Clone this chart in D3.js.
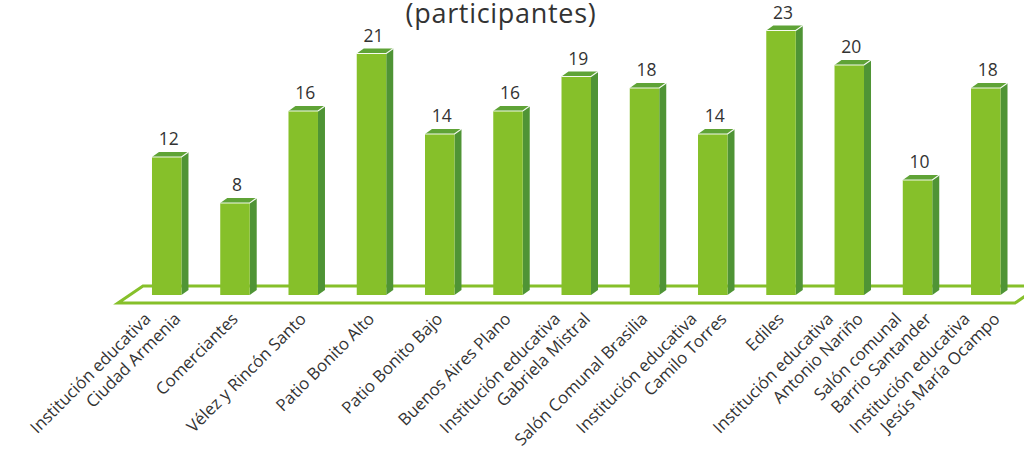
<!DOCTYPE html>
<html>
<head>
<meta charset="utf-8">
<script src="https://cdn.jsdelivr.net/npm/d3@7"></script>
<style>
  html, body { margin: 0; padding: 0; background: #ffffff; }
  svg { display: block; }
</style>
</head>
<body>
<svg id="chart" width="1024" height="451"></svg>
<script>
const categories = [
  "Institución educativa\nCiudad Armenia",
  "Comerciantes",
  "Vélez y Rincón Santo",
  "Patio Bonito Alto",
  "Patio Bonito Bajo",
  "Buenos Aires Plano",
  "Institución educativa\nGabriela Mistral",
  "Salón Comunal Brasilia",
  "Institución educativa\nCamilo Torres",
  "Ediles",
  "Institución educativa\nAntonio Nariño",
  "Salón comunal\nBarrio Santander",
  "Institución educativa\nJesús María Ocampo"
];
const participantes = [12, 8, 16, 21, 14, 16, 19, 18, 14, 23, 20, 10, 18];
const titleText = "(participantes)";

const svg = d3.select("#chart");
const baseY = 295;
const font = "'Open Sans', 'DejaVu Sans', sans-serif";

const x = d3.scaleBand()
  .domain(categories)
  .range([132.6, 1019.9])
  .paddingInner(0.568)
  .paddingOuter(0.284);

const y = d3.scaleLinear()
  .domain([0, 24])
  .range([baseY, baseY - 24 * 11.5]);

const bw = x.bandwidth();
const dx = 7, dy = 5;

const cFront = "#86c02a";
const cSide = "#4f9435";
const cTop = "#5fa336";

// Floor parallelogram
const floorBackY = baseY - 9, floorFrontY = baseY + 8;
svg.append("path")
  .attr("d", `M143,${floorBackY} L1040,${floorBackY} L1015,${floorFrontY} L118,${floorFrontY} Z`)
  .attr("fill", "#ffffff")
  .attr("stroke", cFront)
  .attr("stroke-width", 3)
  .attr("stroke-linejoin", "miter");

// Bars
const bars = svg.append("g").selectAll("g.bar")
  .data(categories.map((c, i) => ({ c, v: participantes[i] })))
  .join("g").attr("class", "bar");

bars.append("path") // side
  .attr("d", d => {
    const x0 = x(d.c) + bw, yv = y(d.v);
    return `M${x0},${yv} L${x0 + dx},${yv - dy} L${x0 + dx},${baseY - dy} L${x0},${baseY} Z`;
  })
  .attr("fill", cSide);

bars.append("path") // top
  .attr("d", d => {
    const x0 = x(d.c), yv = y(d.v);
    return `M${x0},${yv} L${x0 + dx},${yv - dy} L${x0 + bw + dx},${yv - dy} L${x0 + bw},${yv} Z`;
  })
  .attr("fill", cTop);

bars.append("rect") // front
  .attr("x", d => x(d.c))
  .attr("y", d => y(d.v))
  .attr("width", bw)
  .attr("height", d => baseY - y(d.v))
  .attr("fill", cFront);

bars.append("path") // highlight
  .attr("d", d => {
    const x0 = x(d.c), yv = y(d.v);
    return `M${x0},${yv} L${x0 + bw},${yv} L${x0 + bw + dx},${yv - dy}`;
  })
  .attr("fill", "none")
  .attr("stroke", "#ffffff")
  .attr("stroke-width", 1.2)
  .attr("opacity", 0.9);

// Value labels
bars.append("text")
  .attr("x", d => x(d.c) + bw / 2 + 2)
  .attr("y", d => y(d.v) - 12)
  .attr("text-anchor", "middle")
  .attr("font-family", font)
  .attr("font-size", 17.5)
  .attr("fill", "#333333")
  .text(d => d.v);

// Category labels (rotated)
const lab = svg.append("g");
categories.forEach(c => {
  const lines = c.split("\n");
  const n = lines.length;
  const cx = x(c) + bw / 2;
  lines.forEach((ln, i) => {
    const ax = cx + (n === 1 ? 4 : 0) + (i - (n - 1) / 2) * 30;
    const ay = 320;
    lab.append("text")
      .attr("transform", `translate(${ax},${ay}) rotate(-45)`)
      .attr("text-anchor", "end")
      .attr("font-family", font)
      .attr("font-size", 16.8)
      .attr("fill", "#333333")
      .text(ln);
  });
});

// Title
svg.append("text")
  .attr("x", 501)
  .attr("y", 23)
  .attr("text-anchor", "middle")
  .attr("font-family", font)
  .attr("font-size", 27)
  .attr("letter-spacing", 0.7)
  .attr("fill", "#333333")
  .text(titleText);
</script>
</body>
</html>
